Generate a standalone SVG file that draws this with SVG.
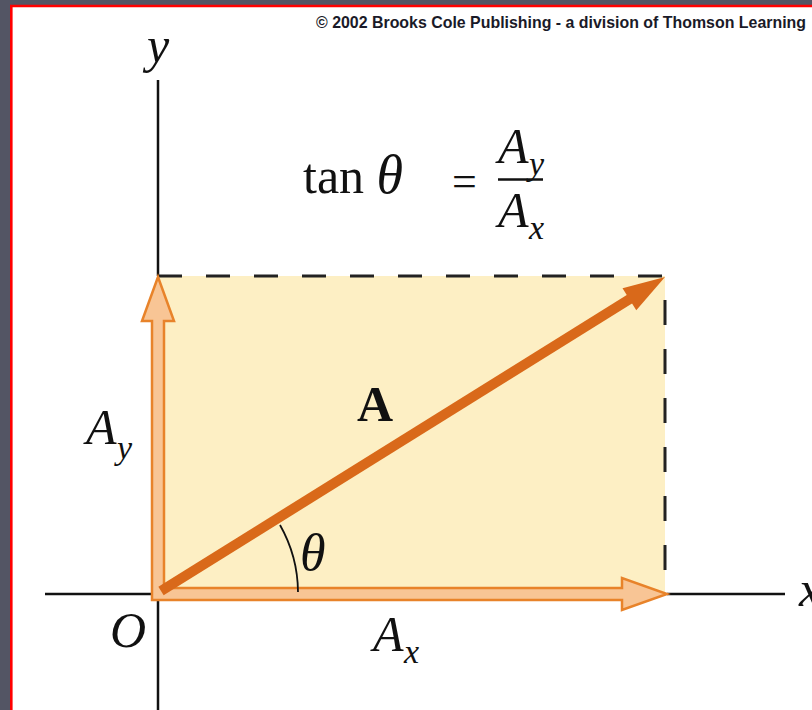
<svg xmlns="http://www.w3.org/2000/svg" width="812" height="710" viewBox="0 0 812 710">
<style>
.it{font-family:"Liberation Serif","Times New Roman",serif;font-style:italic;fill:#111}
.rm{font-family:"Liberation Serif","Times New Roman",serif;fill:#111}
.axis{stroke:#111;stroke-width:2.5;fill:none}
.dash{stroke:#222;stroke-width:3;fill:none;stroke-dasharray:24 24}
</style>
<rect x="0" y="0" width="812" height="710" fill="#535564"/>
<rect x="12" y="7" width="800" height="703" fill="#ffffff"/>
<path d="M11.3,710 V6 H812" fill="none" stroke="#ff0000" stroke-width="2.6"/>
<text x="316" y="28" font-family="Liberation Sans, Arial, sans-serif" font-weight="bold" font-size="16.5" fill="#1a1a28" textLength="490" lengthAdjust="spacingAndGlyphs">© 2002 Brooks Cole Publishing - a division of Thomson Learning</text>

<g id="box">
<rect x="158" y="276" width="507" height="318" fill="#fdefc4"/>
<path class="dash" d="M158,276 H665"/>
<path class="dash" d="M665,300 V594" style="stroke-dasharray:25 24"/>
</g>

<g id="axes">
<path class="axis" d="M158,80 V276"/>
<path class="axis" d="M158,600 V710"/>
<path class="axis" d="M45,594 H152"/>
<path class="axis" d="M667,594 H785"/>
</g>

<g id="components">
<path d="M152,600 L152,321 L142,321 L158,277 L174,321 L164,321 L164,588 L622,588 L622,578 L667,594 L622,610 L622,600 Z" fill="#f8c595" stroke="#e8832a" stroke-width="2.5" stroke-linejoin="miter"/>
</g>

<g id="vectorA">
<line x1="161" y1="591" x2="633" y2="297" stroke="#d9691a" stroke-width="10"/>
<polygon points="665,277 636.3,310.2 622.5,288.2" fill="#d9691a"/>
</g>

<g id="angle">
<path d="M280,525 A138,138 0 0 1 298,592" fill="none" stroke="#111" stroke-width="1.8"/>
<text class="it" x="300" y="570" font-size="52">θ</text>
</g>

<g id="labels">
<text class="it" x="147" y="62" font-size="50">y</text>
<text class="it" x="110" y="647" font-size="50">O</text>
<text class="it" x="799" y="606" font-size="50">x</text>
<text class="rm" x="357" y="421" font-size="50" font-weight="bold">A</text>
<text class="it" x="86" y="444" font-size="50">A</text>
<text class="it" x="117" y="459" font-size="34">y</text>
<text class="it" x="373" y="651" font-size="50">A</text>
<text class="it" x="404" y="663" font-size="34">x</text>
</g>

<g id="formula">
<text class="rm" x="303" y="193" font-size="50">tan <tspan font-style="italic" font-size="54">θ</tspan></text>
<text class="rm" x="452" y="196" font-size="44">=</text>
<line x1="498" y1="179.5" x2="543" y2="179.5" stroke="#111" stroke-width="2.5"/>
<text class="it" x="498" y="163" font-size="50">A</text>
<text class="it" x="529" y="175" font-size="34">y</text>
<text class="it" x="498" y="227" font-size="50">A</text>
<text class="it" x="529" y="239" font-size="34">x</text>
</g>
</svg>
